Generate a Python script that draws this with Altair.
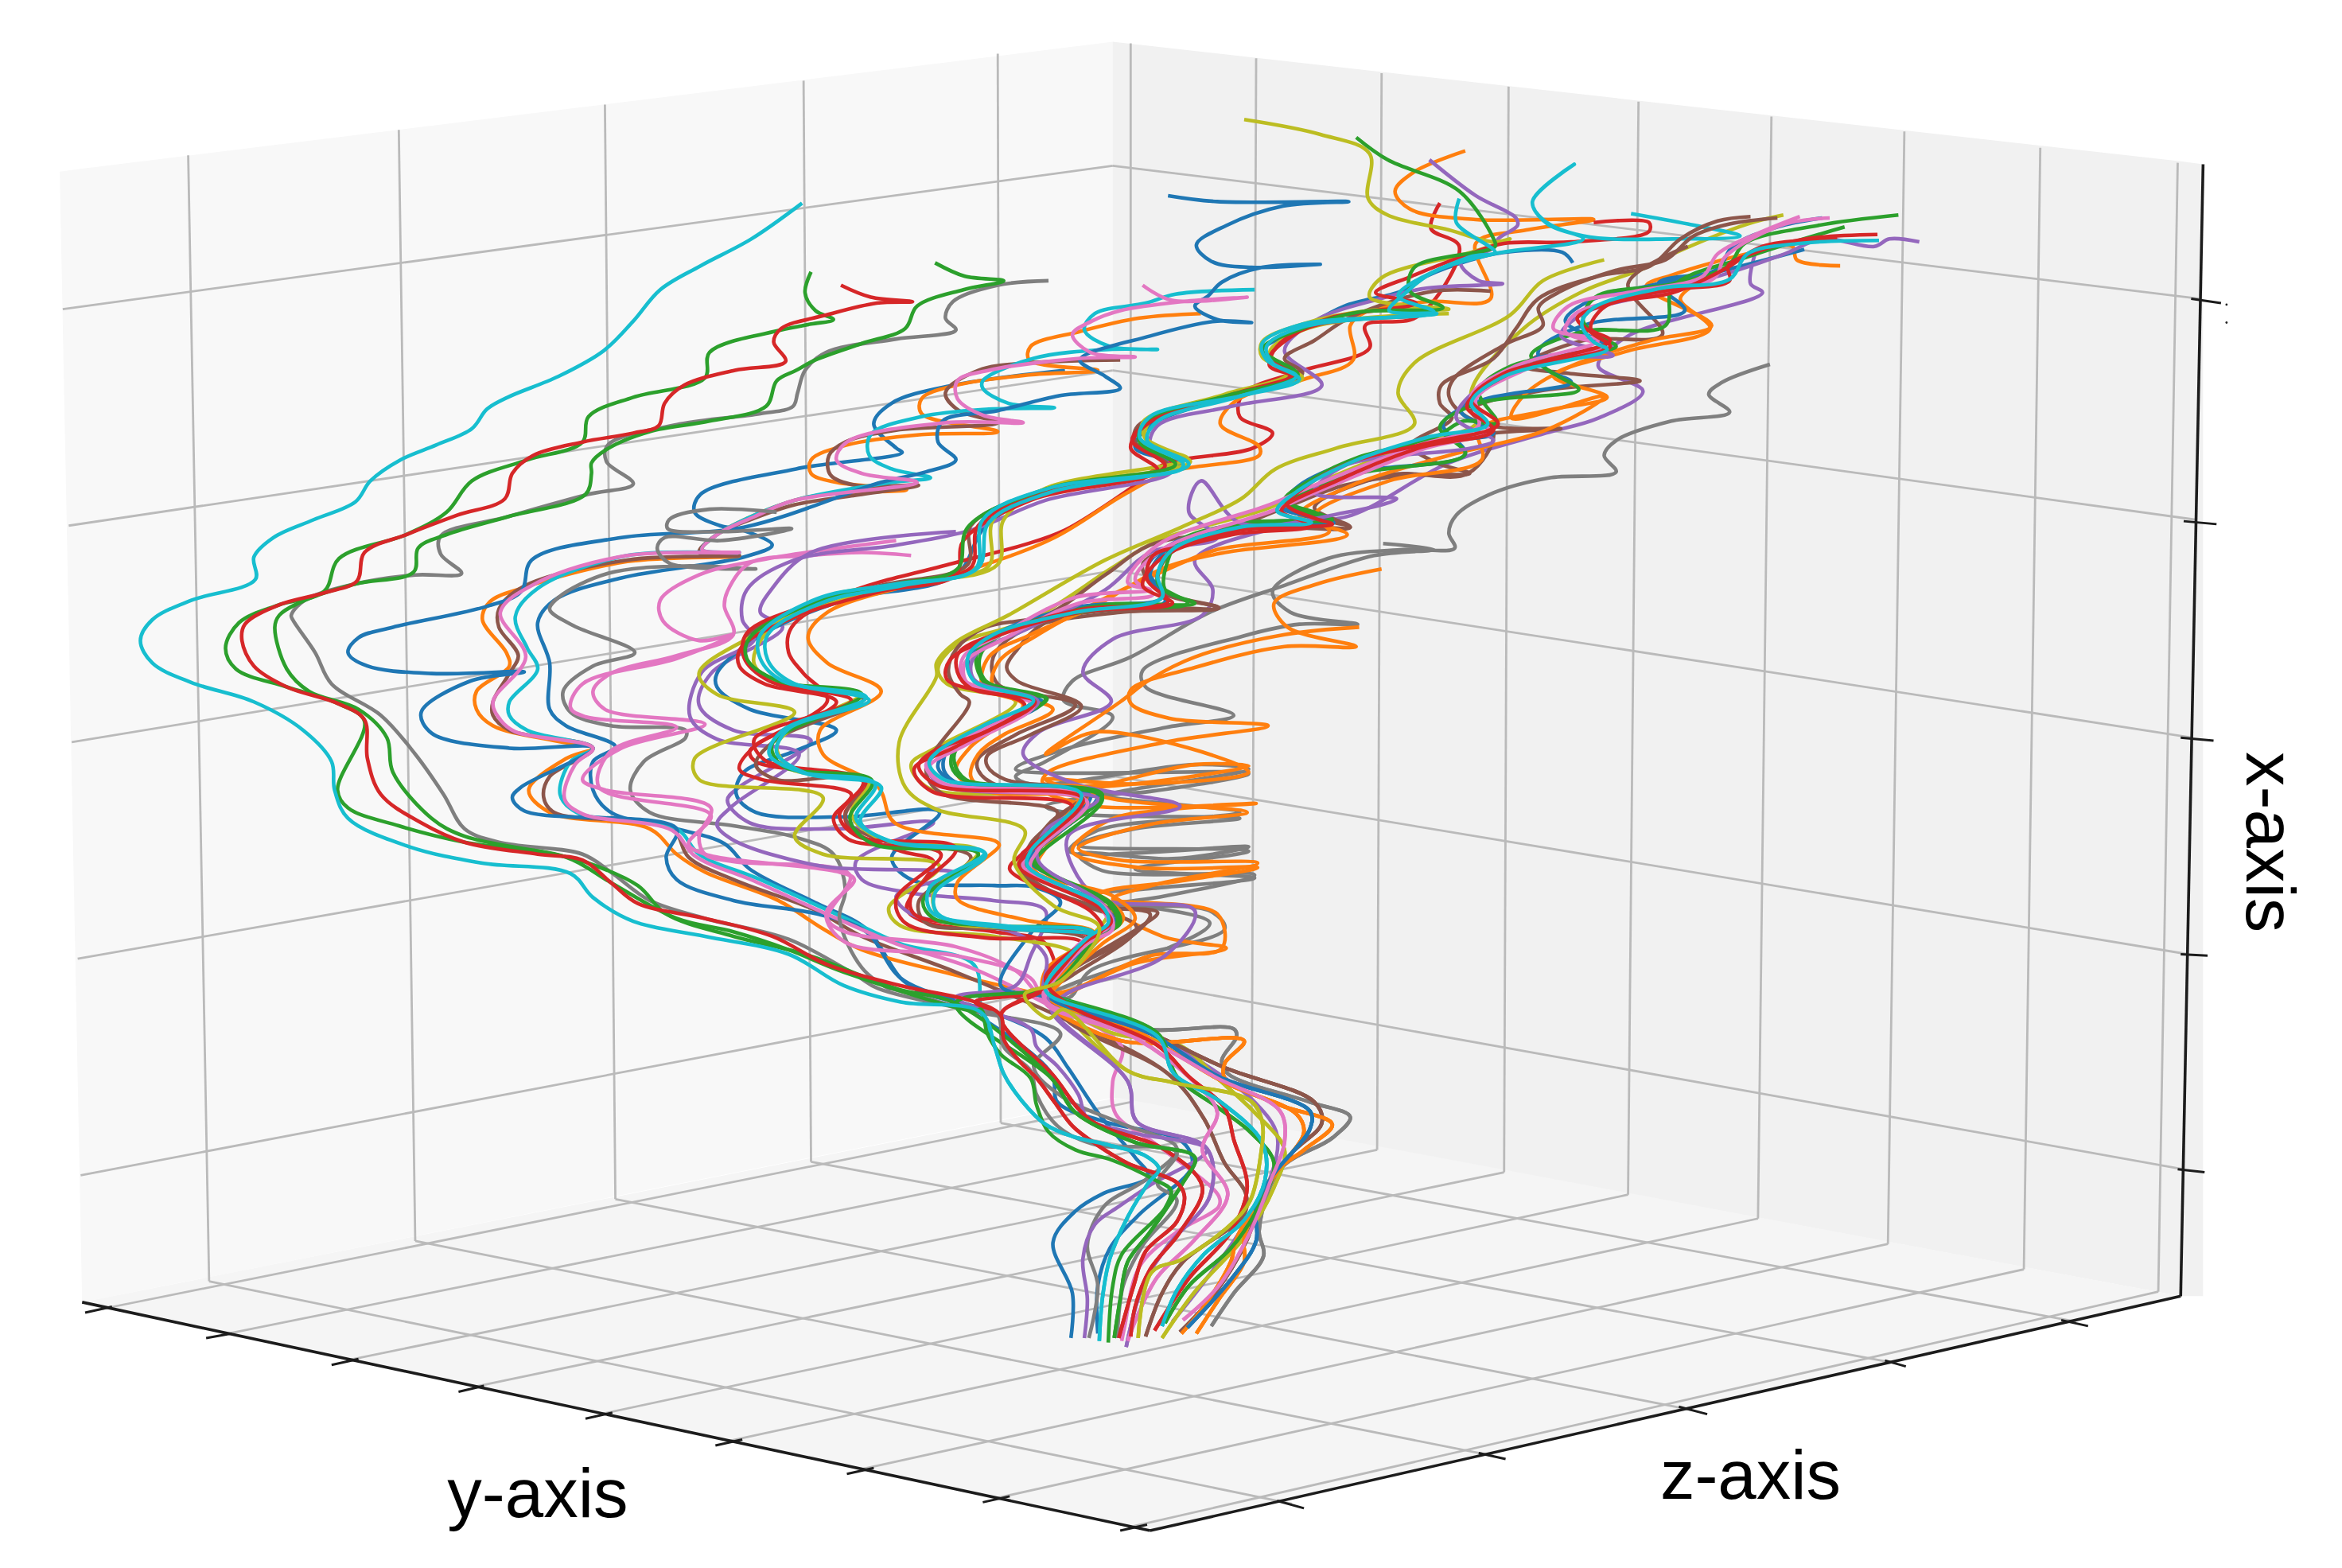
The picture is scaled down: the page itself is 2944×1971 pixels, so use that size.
import altair as alt
import pandas as pd

B, O, G, R, P, N, K, Y, L, C = ("#1f77b4", "#ff7f0e", "#2ca02c", "#d62728", "#9467bd",
                                "#8c564b", "#e377c2", "#7f7f7f", "#bcbd22", "#17becf")

left_wall = [(40, 115, 115), (55, 113, 872), (745, 28, 735)]
right_wall = [(745, 28, 735), (1460, 108, 868), (1475, 110, 868)]
floor_pane = [(55, 872, 872), (748, 735, 1020), (770, 739, 1025), (1460, 868, 868)]

grid_segments = [
    (126, 104, 140, 858), (267, 87, 278, 831), (405, 70, 412, 803), (538, 54, 543, 778), (668, 36, 670, 752),
    (757, 29, 757, 738), (841, 39, 838, 755), (925, 49, 922, 770), (1010, 58, 1007, 785), (1097, 68, 1090, 800),
    (1186, 78, 1177, 816), (1275, 88, 1264, 833), (1366, 99, 1355, 850), (1458, 109, 1445, 865),
    (42, 207, 745, 111), (46, 352, 745, 248), (48, 497, 746, 382), (52, 642, 747, 520), (54, 787, 748, 655),
    (745, 111, 1472, 200), (745, 248, 1470, 348), (746, 382, 1468, 494), (747, 520, 1465, 639), (748, 655, 1462, 783),
    (66, 877, 757, 738), (148, 894, 838, 755), (232, 911, 922, 770), (316, 929, 1007, 785), (402, 947, 1090, 800),
    (488, 965, 1177, 816), (576, 984, 1264, 833), (668, 1003, 1355, 850), (759, 1022, 1445, 865),
    (865, 1007, 140, 858), (1000, 975, 278, 831), (1132, 944, 412, 803), (1270, 913, 543, 778), (1390, 885, 670, 752),
]
spine_segments = [(55, 872, 770, 1025), (770, 1025, 1460, 868), (1475, 110, 1460, 868)]
tick_segments = [
    (57, 879, 75, 875), (138, 896, 155, 893), (222, 914, 240, 910), (307, 932, 324, 928), (392, 950, 410, 946),
    (479, 968, 497, 964), (567, 987, 585, 983), (658, 1006, 676, 1002), (750, 1025, 768, 1021),
    (855, 1005, 873, 1010), (990, 973, 1008, 977), (1124, 942, 1143, 947), (1262, 911, 1276, 915), (1380, 884, 1398, 888),
    (1467, 200, 1487, 203), (1462, 349, 1484, 351), (1460, 494, 1482, 496), (1460, 639, 1478, 640), (1458, 783, 1476, 785),
]
label_text = ["y-axis", "z-axis", "x-axis"]
label_x = [360, 1172, 1518]
label_y = [1002, 990, 564]
label_angle = [0, 0, 90]
stray_dots = [(1490.7, 204), (1490.7, 216)]

tail_blue = [(640,670),(665,678),(700,695),(715,715),(735,745),(760,775),(769,788),(739,799),(720,811),(705,832),(718,866),(717,896)]
tail_purple = [(640,668),(690,689),(694,701),(708,714),(722,733),(728,749),(755,758),(808,770),(771,793),(749,808),(733,820),(725,843),(728,870),(726,896)]
tail_gray = [(596,662),(651,677),(710,692),(692,714),(712,735),(750,752),(788,769),(767,790),(739,808),(728,834),(735,861),(729,896)]
tail_gray_r = [(700,668),(765,689),(826,689),(828,694),(818,710),(822,719),(877,738),(904,748),(892,762),(857,783),(843,824),(846,841),(826,866),(811,888)]
tail_orange_r = [(700,670),(751,697),(833,697),(820,712),(820,722),(857,740),(892,753),(873,770),(853,786),(833,829),(833,845),(816,870),(801,893)]
tail_orange_2 = [(702,668),(760,690),(820,725),(868,746),(873,758),(855,785),(828,829),(824,845),(806,875),(791,893)]
tail_blue_r = [(703,668),(770,692),(816,721),(877,744),(877,756),(853,786),(841,808),(841,831),(824,857),(795,889)]
tail_pink_r = [(700,670),(770,697),(815,722),(857,744),(860,765),(851,790),(837,825),(816,861),(792,884)]
tail_green_c = [(702,665),(775,692),(788,721),(816,742),(837,758),(853,779),(841,811),(824,836),(796,861),(780,886)]
tail_cyan_c = [(702,666),(775,694),(786,719),(816,737),(845,765),(847,790),(833,817),(806,840),(788,864),(778,888)]
tail_red_c = [(714,672),(775,700),(796,721),(820,742),(826,763),(835,795),(824,825),(796,856),(773,891)]
tail_brown = [(714,683),(782,719),(806,749),(820,779),(834,799),(833,813),(792,845),(778,866),(767,895)]
tail_olive = [(712,676),(755,717),(786,725),(837,737),(845,751),(844,774),(837,804),(824,820),(792,843),(771,852),(762,896)]
tail_pink_m = [(700,672),(751,701),(745,724),(747,746),(775,767),(816,801),(816,808),(788,825),(763,848),(753,888),(751,898)]
tail_purple_c = [(704,676),(755,724),(761,751),(808,769),(810,801),(782,834),(765,861),(754,902)]
tail_blue_c = [(640,672),(704,719),(708,738),(739,751),(792,765),(798,781),(763,813),(743,836),(735,861),(735,893)]
tail_green_a = [(657,676),(661,692),(670,706),(690,722),(694,740),(702,758),(720,770),(745,777),(773,790),(784,797),(780,809),(751,840),(745,861),(742,899)]
tail_gray_a = [(668,680),(672,701),(690,717),(694,733),(708,754),(735,767),(775,768),(788,772),(775,793),(788,804),(765,834),(752,861),(748,896)]
tail_red_a = [(653,671),(670,680),(672,696),(682,710),(694,722),(706,738),(718,754),(735,767),(755,779),(788,792),(793,801),(788,818),(767,838),(759,861),(749,896)]
tail_cyan_a = [(657,678),(666,701),(672,719),(684,737),(700,753),(718,761),(743,767),(767,774),(776,783),(769,792),(755,815),(743,843),(738,870),(736,898)]
tail_olive_b = [(740,690),(790,700),(815,722),(840,745),(860,770),(853,795),(836,825),(800,865),(778,896)]
tail_purple_r = [(700,670),(765,690),(810,715),(840,738),(855,760),(850,790),(830,825),(805,860),(785,885)]
tail_pink_b = [(700,672),(760,695),(800,725),(815,745),(805,770),(822,800),(800,830),(775,855),(762,880),(755,898)]
tail_green_b = [(640,672),(704,722),(720,745),(760,765),(800,775),(792,792),(770,825),(755,845),(750,870),(746,896)]
tail_red_b = [(670,680),(705,720),(730,750),(780,770),(805,795),(790,825),(770,850),(760,875),(757,895)]
tail_brown_r = [(710,672),(770,692),(820,715),(880,738),(885,752),(865,772),(845,800),(835,830),(812,868),(790,892)]

line_cyan_a = [(537,136),(503,160),(469,178),(442,194),(424,215),(404,235),(374,252),(340,266),(326,274),(316,287),(292,298),(268,308),(248,322),(238,336),(210,348),(183,360),(170,373),(171,388),(128,402),(102,415),(94,429),(102,444),(128,457),(170,470),(203,489),(222,510),(224,529),(233,548),(274,567),(323,578),(382,585),(397,601),(424,617),(472,627),(528,639),(565,660),(603,671)] + tail_cyan_a
line_red_a = [(563,191),(583,199),(611,202),(587,203),(553,211),(523,220),(518,229),(526,242),(492,248),(458,258),(445,270),(441,285),(424,290),(390,296),(357,305),(343,317),(338,334),(306,345),(272,358),(244,370),(239,389),(217,397),(187,405),(164,418),(162,429),(170,446),(192,460),(226,471),(244,482),(246,508),(255,532),(282,551),(311,564),(360,572),(390,576),(409,591),(427,605),(472,615),(517,627),(554,646),(603,660)] + tail_red_a
line_green_a1 = [(543,182),(539,196),(546,208),(558,214),(543,217),(523,221),(475,236),(472,253),(424,266),(394,279),(390,296),(353,308),(316,322),(299,343),(272,358),(227,374),(217,396),(187,405),(160,417),(151,434),(158,448),(192,460),(226,471),(244,483),(226,529),(233,541),(267,553),(311,564),(379,574),(409,591),(453,615),(491,624),(528,636),(565,651),(652,677)] + tail_green_a
line_green_a2 = [(626,176),(646,185),(672,188),(645,194),(614,205),(606,220),(577,230),(546,241),(533,248),(520,255),(513,272),(475,282),(435,289),(406,301),(396,310),(396,317),(392,331),(340,346),(299,358),(280,367),(277,383),(238,391),(204,402),(187,412),(184,420),(192,448),(207,463),(240,475),(259,494),(263,517),(289,548),(311,560),(371,572),(394,578),(427,593),(446,612),(491,627),(539,639),(600,662)] + tail_green_b
line_gray_a = [(702,188),(668,191),(638,202),(633,213),(640,221),(600,227),(553,236),(539,248),(534,263),(531,272),(509,277),(455,284),(407,298),(406,309),(424,324),(394,331),(340,346),(295,359),(295,371),(309,384),(278,385),(238,391),(204,402),(195,412),(196,415),(211,437),(222,458),(255,479),(278,505),(297,532),(311,555),(334,564),(390,572),(409,584),(435,603),(472,615),(528,629),(573,653),(588,662),(652,677)] + tail_gray_a

line_blue_1 = [(782,131),(815,135),(903,135),(859,138),(821,151),(801,164),(811,175),(838,179),(884,177),(845,179),(818,189),(809,198),(800,205),(815,214),(838,216),(815,215),(770,225),(723,241),(740,252),(750,260),(709,265),(668,275),(631,282),(628,296),(640,308),(620,316),(590,323),(498,353),(416,360),(356,375),(349,396),(326,406),(263,420),(240,427),(233,437),(246,446),(289,451),(351,450),(315,456),(282,477),(289,491),(341,501),(397,501),(349,527),(343,534),(351,543),(453,555),(446,574),(453,589),(491,603),(547,612),(580,624),(603,655)] + tail_blue
line_blue_2 = [(713,248),(638,258),(597,270),(585,284),(600,300),(604,303),(533,314),(469,331),(465,343),(482,352),(497,355),(517,365),(498,373),(416,387),(371,402),(360,417),(368,444),(368,475),(379,486),(412,500),(397,510),(397,529),(409,544),(453,555),(485,565),(502,582),(547,605),(580,622),(603,655),(618,665)] + tail_blue_c
line_orange_b = [(804,210),(763,213),(723,222),(690,232),(689,241),(735,248),(689,251),(640,258),(617,267),(617,277),(668,289),(617,291),(567,298),(543,308),(543,317),(560,323),(607,328),(553,331),(532,335),(505,345),(480,358),(470,368),(495,372),(420,376),(349,394),(328,403),(323,415),(339,437),(341,446),(319,463),(319,475),(330,486),(371,496),(397,501),(379,508),(354,529),(368,544),(435,555),(453,572),(472,584),(521,603),(551,622),(577,636),(640,653)] + tail_orange_2
line_brown_b = [(750,241),(690,243),(655,248),(633,263),(642,275),(668,283),(600,288),(566,296),(555,305),(556,318),(573,325),(615,325),(570,332),(532,338),(505,347),(480,358),(468,370),(495,372),(420,375),(350,393),(334,408),(334,420),(347,439),(341,451),(330,470),(330,479),(341,489),(397,501),(368,520),(364,534),(371,544),(450,555),(461,574),(491,589),(547,610),(577,627),(640,651)] + tail_brown
line_cyan_b = [(840,194),(787,197),(767,203),(733,210),(726,221),(743,232),(775,234),(743,234),(692,240),(658,255),(658,260),(675,270),(706,273),(662,274),(617,279),(583,291),(582,305),(597,314),(623,320),(597,323),(532,335),(505,345),(480,358),(470,368),(495,370),(420,372),(360,394),(345,413),(353,434),(360,448),(341,470),(341,479),(353,489),(397,501),(382,510),(375,532),(386,544),(453,555),(468,572),(509,589),(566,615),(603,632),(652,646)] + tail_cyan_a
line_pink_b = [(765,191),(784,201),(835,199),(791,202),(750,208),(731,215),(718,224),(730,236),(760,239),(723,240),(662,248),(641,255),(641,267),(658,278),(685,283),(634,283),(567,296),(560,308),(577,317),(614,323),(532,335),(505,346),(480,358),(470,368),(495,370),(420,372),(360,390),(335,410),(352,440),(330,470),(335,482),(345,490),(397,501),(385,512),(378,535),(390,545),(450,556),(465,573),(505,590),(560,615),(600,632),(650,648)] + tail_pink_m
line_gray_b = [(520,343),(475,341),(448,348),(447,354),(482,356),(530,354),(482,362),(445,360),(440,367),(448,377),(506,381),(458,379),(407,384),(374,400),(368,408),(384,419),(425,437),(397,446),(377,463),(382,477),(409,486),(459,489),(459,494),(431,510),(422,529),(435,544),(491,553),(534,561),(558,572),(566,596),(562,615),(577,648),(595,662)] + tail_gray
line_pink_c = [(610,372),(577,370),(543,372),(502,377),(487,396),(485,406),(491,425),(453,439),(409,451),(397,463),(405,475),(472,485),(416,501),(390,522),(405,529),(476,541),(468,560),(472,572),(491,577),(569,586),(554,615),(566,624),(640,634),(680,650)] + tail_pink_r
line_pink_d = [(600,362),(509,375),(468,385),(442,402),(444,416),(468,429),(491,425),(453,441),(390,458),(382,474),(392,480),(453,487),(409,503),(401,527),(476,546),(461,565),(472,572),(562,584),(572,589),(553,612),(566,631),(640,640),(690,655)] + tail_pink_b
line_purple_c = [(640,356),(543,370),(517,394),(509,410),(524,420),(476,451),(468,472),(491,489),(543,496),(495,527),(487,536),(502,551),(562,555),(625,551),(573,577),(577,589),(610,598),(665,603),(700,610),(690,640),(680,660)] + tail_purple
line_blue_d = [(1053,176),(1046,169),(1007,169),(985,174),(955,185),(938,195),(900,205),(872,220),(845,235),(865,250),(835,262),(770,285),(760,300),(790,311),(700,330),(660,352),(640,385),(565,402),(510,425),(480,451),(480,460),(502,475),(560,489),(532,503),(498,517),(493,532),(506,544),(566,547),(629,544),(597,574),(610,589),(666,593),(692,594),(710,604),(690,625),(670,660)] + tail_blue_r

line_olive_d = [(833,80),(884,90),(917,103),(916,133),(929,144),(970,154),(1000,162),(1011,160),(985,169),(925,186),(917,199),(970,207),(916,208),(872,217),(845,229),(845,239),(872,253),(831,264),(794,273),(770,282),(767,293),(797,309),(784,314),(702,327),(665,348),(662,379),(621,388),(566,401),(502,427),(468,451),(480,465),(532,477),(465,508),(468,522),(551,534),(532,560),(551,572),(629,580),(595,608),(603,620),(666,627),(720,640),(705,660)] + tail_olive
line_cyan_d = [(977,133),(975,149),(1001,169),(984,172),(936,198),(960,209),(872,217),(845,230),(848,241),(870,254),(831,265),(770,279),(763,293),(792,310),(791,314),(702,327),(658,348),(653,381),(600,391),(547,401),(509,425),(509,441),(524,456),(580,467),(524,489),(515,505),(536,517),(586,525),(573,548),(595,563),(659,571),(622,595),(624,611),(673,620),(732,625),(706,650),(700,664)] + tail_cyan_c
line_green_d = [(908,92),(929,107),(977,128),(1000,160),(1001,165),(947,179),(944,195),(966,206),(910,209),(872,220),(845,234),(869,251),(821,265),(767,282),(763,296),(787,311),(702,327),(648,353),(641,381),(600,391),(547,403),(502,427),(500,441),(521,456),(577,465),(517,498),(524,513),(584,523),(569,548),(584,565),(655,572),(618,603),(625,615),(666,620),(732,625),(706,650),(700,662)] + tail_green_c
line_red_d = [(1067,149),(1104,149),(1104,155),(1052,162),(1007,163),(984,170),(945,185),(921,196),(948,203),(890,213),(865,225),(850,240),(868,250),(825,264),(770,282),(758,295),(780,312),(700,330),(655,352),(650,380),(600,391),(545,404),(500,424),(498,440),(515,456),(570,469),(505,495),(512,509),(578,523),(562,546),(574,560),(640,568),(610,600),(612,612),(660,620),(730,628),(700,655)] + tail_red_c
line_red_e = [(964,136),(958,153),(977,165),(949,212),(914,218),(917,233),(869,249),(832,264),(830,279),(852,290),(839,300),(779,311),(757,327),(713,355),(685,365),(631,379),(565,398),(530,420),(528,437),(538,451),(554,469),(502,503),(506,510),(580,525),(566,544),(569,555),(603,570),(625,577),(607,608),(618,617),(666,624),(700,632),(705,660)] + tail_red_a
line_orange_e = [(981,101),(947,115),(934,128),(944,140),(988,147),(1067,147),(1022,154),(988,163),(998,200),(955,202),(914,209),(904,218),(906,241),(873,254),(828,268),(817,284),(843,299),(843,305),(783,316),(753,331),(706,360),(651,381),(554,410),(541,427),(554,444),(590,463),(549,489),(551,505),(588,527),(599,551),(666,563),(669,566),(641,591),(641,602),(686,616),(733,625),(700,650)] + tail_orange_r
line_purple_d = [(957,107),(988,131),(1015,146),(1016,151),(1003,160),(1000,166),(978,176),(990,188),(1006,190),(955,193),(924,200),(880,215),(860,235),(885,258),(825,272),(775,285),(770,300),(785,315),(700,335),(650,355),(600,365),(532,375),(500,395),(497,415),(505,428),(470,450),(462,480),(480,495),(535,505),(490,540),(480,552),(490,562),(550,580),(640,585),(600,600),(610,612),(680,625),(700,640)] + tail_purple_r
line_brown_d = [(998,195),(960,195),(905,212),(880,228),(860,240),(872,250),(815,268),(762,285),(760,296),(782,312),(695,330),(650,352),(648,378),(590,392),(530,410),(498,428),(500,442),(525,458),(578,468),(520,495),(506,512),(520,522),(578,522),(566,548),(588,562),(650,574),(615,604),(620,618),(672,622),(728,630),(700,660)] + tail_brown_r
line_olive_d2 = [(970,210),(905,214),(870,222),(850,236),(862,250),(820,264),(765,283),(770,298),(795,307),(700,327),(672,348),(668,378),(612,390),(552,400),(512,425),(505,445),(528,460),(576,465),(530,488),(520,500),(530,515),(582,523),(570,545),(590,562),(655,570),(625,598),(630,615),(680,622),(732,628),(703,660)] + tail_olive_b
line_red_d2 = [(948,212),(880,218),(855,232),(850,245),(865,252),(822,266),(768,284),(757,300),(775,315),(690,335),(645,362),(640,385),(590,396),(530,414),(496,434),(495,446),(512,458),(560,470),(505,500),(495,515),(510,522),(570,532),(558,548),(568,562),(630,572),(600,602),(606,618),(660,628),(725,632),(700,662)] + tail_red_b

line_gray_f1 = [(1185,244),(1153,256),(1144,264),(1158,276),(1119,282),(1082,295),(1074,305),(1082,316),(1037,320),(1000,330),(975,345),(970,357),(974,367),(940,368),(889,374),(852,396),(864,410),(909,418),(870,418),(832,426),(765,449),(767,460),(826,479),(781,487),(712,502),(680,515),(836,518),(770,530),(740,533),(830,544),(800,548),(735,556),(716,570),(836,567),(785,575),(722,572),(738,583),(840,586),(780,600),(745,606),(810,610),(820,622),(730,650),(716,668)] + tail_gray_r
line_gray_f2 = [(926,364),(960,368),(920,372),(860,392),(810,410),(757,440),(718,456),(712,469),(745,480),(700,510),(680,520),(690,525),(800,512),(836,515),(750,530),(700,540),(720,545),(830,548),(760,555),(722,566),(836,570),(760,582),(840,588),(770,595),(725,600),(810,618),(770,640),(715,660)] + tail_gray_r
line_orange_f1 = [(925,381),(882,391),(853,404),(862,420),(908,433),(860,433),(800,447),(757,462),(757,471),(783,481),(849,486),(780,497),(702,517),(698,524),(732,527),(836,513),(800,512),(740,525),(700,530),(735,540),(841,538),(783,542),(743,549),(718,570),(763,581),(842,581),(790,590),(735,600),(778,627),(821,635),(760,645),(715,665)] + tail_orange_r
line_orange_f2 = [(910,420),(860,425),(800,440),(770,455),(750,470),(700,505),(735,490),(836,517),(760,525),(700,522),(745,535),(835,544),(770,552),(722,568),(750,576),(842,578),(775,592),(745,602),(815,612),(818,635),(770,640),(720,662)] + tail_orange_2

line_red_e1 = [(1257,157),(1209,160),(1175,169),(1157,178),(1158,188),(1119,194),(1082,202),(1056,213),(1067,224),(1078,232),(1007,250),(985,268),(1003,284),(955,297),(906,309),(875,325),(862,338),(880,347),(892,351),(830,355),(790,366),(772,372),(768,388),(782,403),(725,408),(668,424),(642,437),(641,450),(650,461),(693,470),(660,490),(625,503),(615,513),(628,526),(725,535),(690,570),(682,580),(735,607),(744,617),(730,628),(700,655)] + tail_red_c
line_brown_e = [(1190,146),(1158,150),(1134,158),(1115,174),(1082,181),(1045,195),(1030,206),(1033,218),(1007,231),(973,254),(970,265),(979,277),(1003,286),(1045,287),(990,291),(950,300),(900,318),(862,340),(904,353),(840,352),(790,365),(765,378),(775,395),(816,407),(760,407),(700,417),(681,435),(674,447),(681,456),(724,473),(690,492),(661,506),(661,513),(673,522),(730,531),(706,550),(686,582),(702,596),(732,607),(775,611),(763,621),(722,646),(702,664)] + tail_brown
line_brown_e2 = [(1172,145),(1150,148),(1125,160),(1105,178),(1070,185),(1030,200),(1015,220),(1000,240),(965,258),(964,270),(972,280),(945,298),(962,310),(984,317),(945,318),(900,325),(860,340),(820,355),(770,365),(740,385),(700,412),(660,420),(640,435),(635,450),(643,465),(649,470),(620,515),(630,531),(708,544),(690,565),(683,584),(728,607),(761,621),(718,653),(702,664)] + tail_brown_r
line_cyan_e = [(1258,161),(1205,163),(1170,170),(1158,187),(1112,193),(1067,206),(1059,217),(1067,229),(1076,234),(1007,252),(985,270),(996,284),(955,293),(906,309),(870,328),(855,342),(878,350),(830,353),(785,368),(775,385),(778,400),(720,410),(665,425),(648,440),(652,456),(692,469),(660,485),(628,503),(622,511),(632,522),(724,532),(690,570),(688,580),(738,607),(742,618),(728,628),(700,660)] + tail_cyan_c
line_green_e = [(1271,144),(1217,151),(1168,163),(1157,178),(1120,190),(1068,199),(1060,215),(1072,226),(1082,232),(1012,245),(990,262),(1002,283),(980,282),(960,293),(910,306),(880,320),(860,335),(880,343),(892,348),(835,350),(790,362),(782,375),(780,395),(800,404),(740,405),(680,420),(655,435),(655,450),(665,462),(701,468),(665,487),(640,500),(637,513),(645,522),(738,534),(698,570),(692,578),(742,605),(748,618),(730,630),(702,660)] + tail_green_c
line_blue_e = [(1220,146),(1190,152),(1160,165),(1150,180),(1110,190),(1063,202),(1048,215),(1075,232),(1028,240),(1000,255),(978,275),(1000,290),(960,296),(908,308),(870,325),(858,340),(885,347),(830,351),(785,364),(768,380),(778,400),(725,406),(675,422),(650,436),(650,452),(662,462),(698,470),(660,490),(632,505),(628,514),(640,524),(735,532),(696,568),(690,577),(745,606),(748,615),(732,628),(702,662)] + tail_blue_r
line_purple_e = [(1285,162),(1265,160),(1255,165),(1220,160),(1195,170),(1160,182),(1115,195),(1060,210),(1045,225),(1080,238),(1040,240),(990,260),(975,280),(1000,295),(985,300),(900,312),(880,330),(935,334),(902,343),(830,350),(804,322),(796,343),(815,360),(770,370),(740,395),(690,420),(652,440),(652,455),(695,470),(650,495),(622,510),(628,525),(735,535),(700,556),(695,576),(738,605),(745,618),(728,630),(702,662)] + tail_purple_c
line_pink_e = [(1205,145),(1180,155),(1150,170),(1140,185),(1095,195),(1050,205),(1040,220),(1070,228),(1015,245),(985,265),(990,285),(950,298),(880,325),(850,338),(775,365),(755,390),(770,395),(720,400),(670,425),(645,440),(645,455),(690,470),(645,495),(620,512),(630,524),(725,534),(694,565),(685,580),(735,606),(742,620),(725,630),(700,660)] + tail_pink_r
line_olive_e = [(1074,174),(1033,188),(1011,211),(947,243),(936,263),(947,284),(895,300),(854,314),(831,334),(791,353),(740,375),(675,412),(640,430),(627,444),(627,453),(602,497),(606,527),(627,542),(686,556),(679,577),(706,607),(736,621),(710,657),(686,666),(702,682)] + tail_olive
line_olive_e2 = [(1194,144),(1170,150),(1120,170),(1100,180),(1060,195),(1020,220),(985,262),(990,282),(940,300),(895,318),(850,340),(775,362),(745,380),(690,415),(640,432),(628,448),(634,458),(680,470),(628,500),(610,512),(622,528),(725,536),(688,570),(682,578),(725,600),(742,610),(730,628),(700,660)] + tail_olive_b
line_orange_e2 = [(1232,178),(1203,174),(1200,165),(1170,170),(1120,184),(1102,192),(1146,218),(1105,228),(1050,246),(1020,265),(1012,280),(1075,265),(1035,288),(970,305),(905,325),(870,345),(902,358),(820,370),(780,380),(752,395),(735,405),(690,425),(662,440),(658,460),(685,472),(650,500),(640,516),(650,526),(730,530),(700,568),(695,580),(742,603),(752,615),(735,630),(705,660)] + tail_orange_2
line_purple_f = [(1175,170),(1172,190),(1180,196),(1090,225),(1070,245),(1100,262),(1070,280),(1035,290),(970,310),(905,345),(860,352),(800,375),(812,395),(805,412),(745,428),(725,450),(744,470),(696,490),(685,505),(720,525),(790,540),(715,560),(733,600),(800,610),(780,640),(715,665)] + tail_purple_c
line_blue_x = [(1208,167),(1150,182),(1110,190),(1128,208),(1063,217),(1030,235),(1035,247),(1052,256),(992,268),(966,284),(981,304),(900,318),(860,340),(893,350),(830,352),(785,365),(770,385),(780,403),(720,407),(668,424),(648,442),(654,458),(690,470),(655,490),(634,503),(632,516),(642,525),(730,533),(693,568),(688,580),(738,606),(746,618),(732,630),(702,660)] + tail_blue_r
line_green_x = [(1235,152),(1170,172),(1120,192),(1115,218),(1060,222),(1025,238),(1040,250),(1057,261),(990,270),(964,286),(981,304),(905,318),(862,338),(892,348),(835,350),(788,364),(775,390),(795,404),(735,408),(670,425),(656,440),(660,456),(700,468),(662,488),(640,502),(640,514),(650,524),(738,532),(698,566),(694,578),(744,605),(750,618),(734,628),(704,660)] + tail_green_b
line_brown_x = [(1130,165),(1090,190),(1113,224),(1060,228),(1020,245),(1050,250),(1098,255),(1030,262),(985,275),(1000,290),(983,317),(930,318),(880,340),(904,353),(835,354),(782,372),(776,395),(816,407),(750,410),(685,422),(665,440),(668,458),(720,472),(680,492),(655,508),(655,516),(668,526),(728,530),(702,552),(684,582),(730,606),(770,612),(760,625),(720,648),(702,664)] + tail_brown_r
line_orange_x = [(1145,185),(1125,200),(1145,220),(1090,235),(1040,252),(1076,266),(1035,275),(990,288),(992,308),(930,322),(880,345),(890,356),(815,368),(780,382),(745,398),(695,425),(668,444),(665,460),(705,475),(672,492),(655,505),(650,520),(662,530),(722,535),(705,556),(692,582),(745,600),(760,615),(738,632),(708,660)] + tail_orange_r
line_red_x = [(1230,160),(1180,165),(1155,180),(1120,196),(1075,205),(1065,220),(1078,228),(1015,248),(982,272),(1000,288),(950,300),(895,322),(858,342),(878,352),(825,358),(780,372),(765,392),(785,404),(722,410),(662,428),(636,442),(634,455),(686,472),(640,500),(612,515),(624,530),(718,540),(684,572),(676,582),(730,610),(738,622),(725,632),(698,662)] + tail_red_b
line_cyan_x = [(1092,143),(1130,150),(1165,158),(1120,160),(1060,158),(1033,147),(1026,135),(1054,110),(1026,135),(1036,150),(1060,160),(1000,170),(960,182),(940,197),(930,208),(962,210),(872,219),(848,232),(852,243),(868,252),(828,266),(775,282),(768,295),(796,311),(702,330),(662,350),(655,380),(605,392),(552,403),(514,425),(514,442),(530,457),(582,469),(528,488),(520,504),(540,518),(590,527),(576,550),(598,564),(660,572),(626,598),(628,612),(678,622),(735,628),(708,652),(702,664)] + tail_cyan_c
line_pink_x = [(1225,146),(1195,150),(1155,172),(1148,186),(1100,198),(1055,210),(1048,222),(1072,232),(1020,248),(988,268),(996,288),(955,300),(885,328),(852,342),(778,368),(760,388),(772,398),(722,404),(672,428),(646,444),(648,458),(692,472),(648,498),(622,514),(634,526),(728,537),(696,568),(690,582),(740,608),(745,622),(728,632),(702,662)] + tail_pink_b

series = [
    (L, line_olive_e2), (B, line_blue_2), (O, line_orange_b), (N, line_brown_b), (C, line_cyan_b), (B, line_blue_1),
    (K, line_pink_b), (Y, line_gray_b), (K, line_pink_c), (K, line_pink_d), (P, line_purple_c), (B, line_blue_d),
    (Y, line_gray_f1), (Y, line_gray_f2), (O, line_orange_f1), (O, line_orange_f2), (P, line_purple_f),
    (R, line_red_e), (O, line_orange_e), (P, line_purple_d), (N, line_brown_d), (L, line_olive_d), (L, line_olive_d2), (R, line_red_d), (R, line_red_d2), (G, line_green_d), (C, line_cyan_d), (C, line_cyan_x),
    (N, line_brown_e), (N, line_brown_e2), (N, line_brown_x), (O, line_orange_e2), (O, line_orange_x), (B, line_blue_e), (B, line_blue_x), (G, line_green_e), (G, line_green_x), (P, line_purple_e),
    (K, line_pink_e), (K, line_pink_x), (R, line_red_e1), (R, line_red_x), (C, line_cyan_e), (L, line_olive_e),
    (Y, line_gray_a), (G, line_green_a2), (G, line_green_a1), (R, line_red_a), (C, line_cyan_a),
]

rows = []
for sid, (col, pts) in enumerate(series):
    for i, (x, y) in enumerate(pts):
        rows.append({"s": sid, "i": i, "x": x, "y": y, "c": col})
traces = pd.DataFrame(rows)

X = alt.Scale(domain=[4.26, 1563.74], nice=False, zero=False)
Y_S = alt.Scale(domain=[1045.74, 4.26], nice=False, zero=False)
xq = lambda f: alt.X(f, type="quantitative", scale=X, axis=None)
yq = lambda f: alt.Y(f, type="quantitative", scale=Y_S, axis=None, stack=None)


def pane(points, colour):
    d = pd.DataFrame(points, columns=["x", "y", "y2"])
    return alt.Chart(d).mark_area(color=colour, interpolate="linear").encode(x=xq("x"), y=yq("y"), y2="y2")


def segs(items):
    out = []
    for k, (a, b, c, d) in enumerate(items):
        out += [{"k": k, "o": 0, "x": a, "y": b}, {"k": k, "o": 1, "x": c, "y": d}]
    return pd.DataFrame(out)


def rules(items, colour, w):
    return alt.Chart(segs(items)).mark_line(color=colour, strokeWidth=w).encode(
        x=xq("x"), y=yq("y"), detail="k:N", order="o:Q")


layers = [
    pane(left_wall, "#f8f8f8"), pane(right_wall, "#f1f1f1"), pane(floor_pane, "#f5f5f5"),
    rules(grid_segments, "#bababa", 2.8),
    alt.Chart(traces).mark_line(strokeWidth=4.6, interpolate="catmull-rom", strokeJoin="round").encode(
        x=xq("x"), y=yq("y"), color=alt.Color("c:N", scale=None), detail="s:N", order="i:Q"),
    rules(spine_segments, "#1c1c1c", 3.6),
    rules(tick_segments, "#1c1c1c", 3),
    alt.Chart(pd.DataFrame(stray_dots, columns=["x", "y"])).mark_circle(color="#222222", size=8, opacity=1).encode(x=xq("x"), y=yq("y")),
]
for t, a, b, ang in zip(label_text, label_x, label_y, label_angle):
    layers.append(
        alt.Chart(pd.DataFrame({"x": [a], "y": [b], "t": [t]})).mark_text(
            font="Liberation Sans", fontSize=87, color="#000000", angle=ang, align="center", baseline="middle"
        ).encode(x=xq("x"), y=yq("y"), text="t:N")
    )

chart = alt.layer(*layers).properties(
    width=2928, height=1955, padding=0, autosize=alt.AutoSizeParams(type="none"), background="white"
).configure_view(stroke=None)

chart.save("out.html", embed_options={"renderer": "svg", "actions": False})
